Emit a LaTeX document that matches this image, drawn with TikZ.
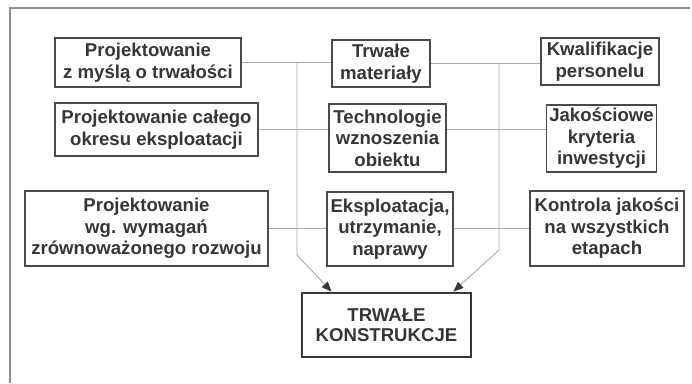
\documentclass[tikz,border=0pt]{standalone}
\usepackage{fontspec}
\setmainfont{Liberation Sans}
\usetikzlibrary{arrows.meta}
\definecolor{ctext}{HTML}{363636}
\definecolor{cbox}{HTML}{4A4A4A}
\definecolor{cline}{HTML}{ABABAB}
\definecolor{cframe}{HTML}{8E8E8E}
\tikzset{
  every picture/.style={line width=1.3pt},
  box/.style={draw=cbox, text=ctext, align=center, inner sep=3pt, font=\fontsize{18.6}{21.5}\selectfont\bfseries},
  link/.style={draw=cline, line width=0.9pt},
  arrow/.style={link, -{Triangle[length=10pt, width=8pt, color=ctext]}},
  frame/.style={draw=cframe, line width=1.2pt},
}

\begin{document}
\begin{tikzpicture}[x=1pt, y=-1pt,
                    b/.style={box, minimum width=#1},
                    goal/.style={box, draw=ctext, line width=2.8pt, minimum width=169pt, minimum height=64pt, font=\fontsize{18.6}{20}\selectfont\bfseries}]
  \useasboundingbox (0,0) rectangle (692,383);
  \draw[frame] (10,383) -- (10,8) -- (690,8);
  % left column
  \node[b=186pt, minimum height=49pt] (b1) at (148, 62.5) {Projektowanie\\z myślą o trwałości};
  \node[b=203pt, minimum height=53pt] (b2) at (156.5, 129.5) {Projektowanie całego\\okresu eksploatacji};
  \node[b=243pt, minimum height=75pt] (b3) at (146.5, 228.5) {Projektowanie\\wg. wymagań\\zrównoważonego rozwoju};
  % middle column
  \node[b=98pt, minimum height=47pt] (m1) at (381, 63.5) {Trwałe\\materiały};
  \node[b=117pt, minimum height=68pt] (m2) at (387.5, 138) {Technologie\\wznoszenia\\obiektu};
  \node[b=126pt, minimum height=74pt] (m3) at (390, 229) {Eksploatacja,\\utrzymanie,\\naprawy};
  % right column
  \node[b=118pt, minimum height=47pt] (r1) at (600, 61.5) {Kwalifikacje\\personelu};
  \node[b=107pt, minimum height=67pt] (r2) at (601.5, 138.5) {Jakościowe\\kryteria\\inwestycji};
  \node[b=154pt, minimum height=75pt] (r3) at (607, 228.5) {Kontrola jakości\\na wszystkich\\etapach};
  \node[goal] (out) at (386.5, 325) {TRWAŁE\\KONSTRUKCJE};
  \coordinate (jl) at (297, 255);
  \coordinate (jr) at (499, 250);
  \draw[link] (b1.east) -- (b1.east -| m1.west); \draw[link] (m1.east) -- (m1.east -| r1.west);
  \draw[link] (b2.east) -- (b2.east -| m2.west); \draw[link] (m2.east |- b2.east) -- (b2.east -| r2.west);
  \draw[link] (b3.east) -- (b3.east -| m3.west); \draw[link] (m3.east |- b3.east) -- (b3.east -| r3.west);
  \draw[arrow] (b1.east -| jl) -- (jl) -- ([xshift=31pt]out.north west);
  \draw[arrow] (m1.east -| jr) -- (jr) -- ([xshift=-19pt]out.north east);
\end{tikzpicture}
\end{document}
